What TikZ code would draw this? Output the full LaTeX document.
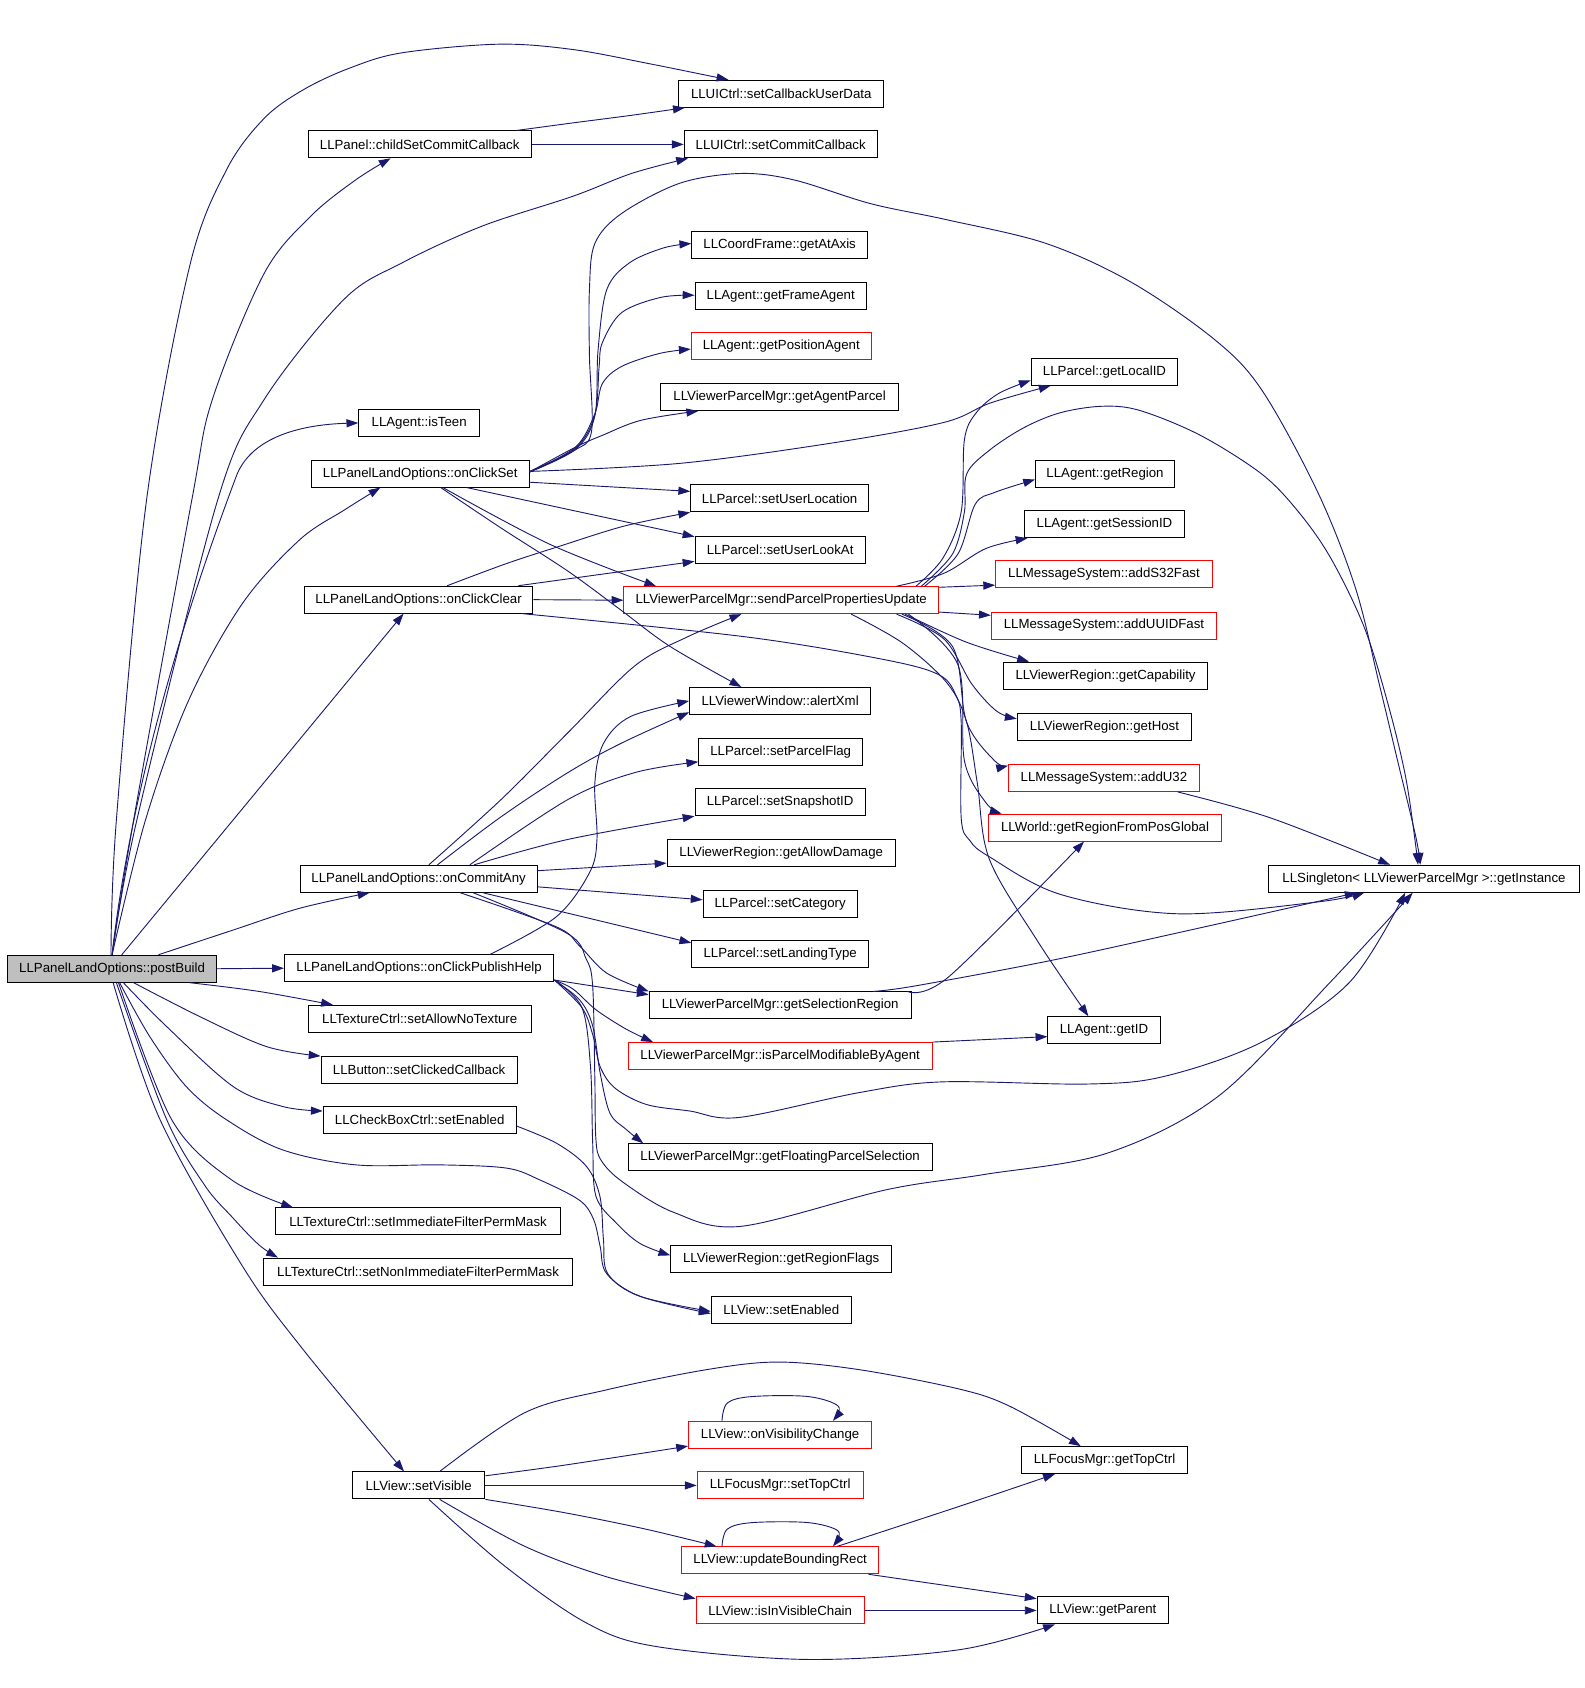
\documentclass[tikz,border=0pt]{standalone}
\usepackage{fontspec}
\setmainfont{Liberation Sans}
\usetikzlibrary{arrows.meta}
\definecolor{edgeblue}{RGB}{25,25,112}
\tikzset{
  fnbox/.style={draw=black, line width=0.9pt, minimum height=25pt, inner sep=0pt, font=\fontsize{12.3}{14}\selectfont, text=black},
  fnred/.style={fnbox, draw=red},
  cl/.style={draw=edgeblue, line width=0.85pt, smooth, tension=0.55, -{Triangle[length=11pt,width=7.5pt]}},
}
\begin{document}
\begin{tikzpicture}[x=1pt,y=-1pt]
\useasboundingbox (0,0) rectangle (1470,1566.5);
% nodes
\node[fnbox, minimum width=194pt, fill=black!25] (pb) at (104,899) {LLPanelLandOptions::postBuild};
\node[fnbox, minimum width=190pt] (scud) at (725,87) {LLUICtrl::setCallbackUserData};
\node[fnbox, minimum width=207pt] (cscc) at (389.5,134) {LLPanel::childSetCommitCallback};
\node[fnbox, minimum width=179pt] (scc) at (724.5,134) {LLUICtrl::setCommitCallback};
\node[fnbox, minimum width=163pt] (gaa) at (723.5,227.5) {LLCoordFrame::getAtAxis};
\node[fnbox, minimum width=159pt] (gfa) at (724.5,275) {LLAgent::getFrameAgent};
\node[fnred, minimum width=167pt] (gpa) at (725,321.5) {LLAgent::getPositionAgent};
\node[fnbox, minimum width=221pt] (gap) at (723.5,368.5) {LLViewerParcelMgr::getAgentParcel};
\node[fnbox, minimum width=112pt] (teen) at (389,392.5) {LLAgent::isTeen};
\node[fnbox, minimum width=202pt] (ocs) at (390,439.5) {LLPanelLandOptions::onClickSet};
\node[fnbox, minimum width=136pt] (glid) at (1025,345) {LLParcel::getLocalID};
\node[fnbox, minimum width=129pt] (greg) at (1025.5,439.5) {LLAgent::getRegion};
\node[fnbox, minimum width=148pt] (gsid) at (1025,486.5) {LLAgent::getSessionID};
\node[fnred, minimum width=201pt] (s32) at (1024.5,533) {LLMessageSystem::addS32Fast};
\node[fnred, minimum width=209pt] (uuid) at (1024.5,580.5) {LLMessageSystem::addUUIDFast};
\node[fnbox, minimum width=190pt] (gcap) at (1026,627) {LLViewerRegion::getCapability};
\node[fnbox, minimum width=162pt] (ghost) at (1025,674.5) {LLViewerRegion::getHost};
\node[fnred, minimum width=177pt] (u32) at (1024.5,722) {LLMessageSystem::addU32};
\node[fnred, minimum width=217pt] (rfpg) at (1025.5,768) {LLWorld::getRegionFromPosGlobal};
\node[fnbox, minimum width=288pt] (inst) at (1321.5,815.5) {LLSingleton< LLViewerParcelMgr >::getInstance};
\node[fnbox, minimum width=165pt] (sul) at (723.5,462.5) {LLParcel::setUserLocation};
\node[fnbox, minimum width=158pt] (sula) at (724,510) {LLParcel::setUserLookAt};
\node[fnbox, minimum width=212pt] (occ) at (388.5,556.5) {LLPanelLandOptions::onClickClear};
\node[fnred, minimum width=292pt] (sppu) at (725,557) {LLViewerParcelMgr::sendParcelPropertiesUpdate};
\node[fnbox, minimum width=168pt] (axml) at (724,650.5) {LLViewerWindow::alertXml};
\node[fnbox, minimum width=152pt] (spf) at (724.5,698) {LLParcel::setParcelFlag};
\node[fnbox, minimum width=158pt] (ssid) at (724,744.5) {LLParcel::setSnapshotID};
\node[fnbox, minimum width=212pt] (gad) at (725,791.5) {LLViewerRegion::getAllowDamage};
\node[fnbox, minimum width=220pt] (oca) at (388.5,815.5) {LLPanelLandOptions::onCommitAny};
\node[fnbox, minimum width=143pt] (scat) at (724,839) {LLParcel::setCategory};
\node[fnbox, minimum width=164pt] (slt) at (724,885.5) {LLParcel::setLandingType};
\node[fnbox, minimum width=250pt] (opph) at (389,898.5) {LLPanelLandOptions::onClickPublishHelp};
\node[fnbox, minimum width=243pt] (gsr) at (724,933) {LLViewerParcelMgr::getSelectionRegion};
\node[fnbox, minimum width=104pt] (gid) at (1024.5,956) {LLAgent::getID};
\node[fnred, minimum width=282pt] (ipm) at (724,980) {LLViewerParcelMgr::isParcelModifiableByAgent};
\node[fnbox, minimum width=207pt] (sant) at (389.5,945.5) {LLTextureCtrl::setAllowNoTexture};
\node[fnbox, minimum width=182pt] (scb) at (389,993) {LLButton::setClickedCallback};
\node[fnbox, minimum width=179pt] (cbse) at (389.5,1039) {LLCheckBoxCtrl::setEnabled};
\node[fnbox, minimum width=282pt] (gfps) at (724,1074) {LLViewerParcelMgr::getFloatingParcelSelection};
\node[fnbox, minimum width=264pt] (sifm) at (388,1133.5) {LLTextureCtrl::setImmediateFilterPermMask};
\node[fnbox, minimum width=287pt] (snifm) at (388,1180) {LLTextureCtrl::setNonImmediateFilterPermMask};
\node[fnbox, minimum width=205pt] (grf) at (725,1168) {LLViewerRegion::getRegionFlags};
\node[fnbox, minimum width=130pt] (vse) at (725,1215.5) {LLView::setEnabled};
\node[fnbox, minimum width=123pt] (vsv) at (388.5,1378.5) {LLView::setVisible};
\node[fnred, minimum width=170pt] (ovc) at (724,1331.5) {LLView::onVisibilityChange};
\node[fnbox, minimum width=154pt] (gtc) at (1025,1355) {LLFocusMgr::getTopCtrl};
\node[fnred, minimum width=154pt] (stc) at (724,1378.5) {LLFocusMgr::setTopCtrl};
\node[fnred, minimum width=183pt] (ubr) at (724,1448) {LLView::updateBoundingRect};
\node[fnred, minimum width=156pt] (ivc) at (724,1494.5) {LLView::isInVisibleChain};
\node[fnbox, minimum width=122pt] (gpar) at (1023.5,1494.5) {LLView::getParent};

% postBuild edges
\draw[cl] plot coordinates {([xshift=-1pt]pb.north) (108,761) (136,464) (176,247) (210,158) (245,110) (282,83) (325,63) (373,49) (463,41) (532,46) (602,59) ([xshift=-49pt]scud.north)};
\draw[cl] plot coordinates {(pb.north) (124,761) (178,464) (197,371) (245,254) (288,201) (330,167) ([xshift=-27pt]cscc.south)};
\draw[cl] plot coordinates {(pb.north) (127,761) (202,464) (245,371) (319,278) (373,244) (447,210) (532,182) (586,161) ([xshift=4pt]scc.south west)};
\draw[cl] (pb.north) .. controls (125,700) and (190,520) .. (220,440) .. controls (235,405) and (280,394) .. (teen.west);
\draw[cl] plot coordinates {(pb.north) (135,761) (175,650) (225,560) (278,501) (320,473) ([xshift=-37pt]ocs.south)};
\draw[cl] ([xshift=9pt]pb.north) -- ([xshift=-14pt]occ.south);
\draw[cl] plot coordinates {([xshift=43pt]pb.north) (216.6,863) (278.4,842.8) ([xshift=-45.5pt]oca.south)};
\draw[cl] (pb.east) -- (opph.west);
\draw[cl] plot coordinates {([xshift=72pt]pb.south) (240,920) ([xshift=-80.5pt]sant.north)};
\draw[cl] plot coordinates {([xshift=20pt]pb.south) (185.6,943.5) (247.5,971.3) (scb.north west)};
\draw[cl] plot coordinates {([xshift=10.5pt]pb.south) (154.7,952.7) (216.5,1008.4) (263,1027) ([yshift=8pt]cbse.west)};
\draw[cl] plot coordinates {([xshift=6pt]pb.south) (159.3,1039) (215,1095) ([xshift=-116pt]sifm.north)};
\draw[cl] plot coordinates {([xshift=4pt]pb.south) (154.7,1039) (190,1100) (215,1129) (240,1155) ([xshift=-130pt]snifm.north)};
\draw[cl] plot coordinates {([xshift=1pt]pb.south) (148.5,1039) (225,1175) (281,1252) ([xshift=-13.5pt]vsv.north)};
\draw[cl] plot coordinates {([xshift=7pt]pb.south) (139,962) (173,1008.5) (210,1039) (262,1067) (330,1081) (408,1081) (470,1084) (501,1095) (538,1114) (551,1132) (557,1157) (563,1182) (594,1203) ([yshift=-3.5pt]vse.west)};

% childSetCommitCallback
\draw[cl] plot coordinates {([xshift=90pt]cscc.north) (532,114) (586,107) ([xshift=6pt]scud.south west)};
\draw[cl] (cscc.east) -- (scc.west);

% onClickSet
\draw[cl] plot coordinates {([yshift=1.5pt]ocs.east) (534,417) (552,386) (555,325) (563,269) (584,244) (616,230) ([yshift=1.5pt]gaa.west)};
\draw[cl] plot coordinates {([yshift=1.5pt]ocs.east) (534,416) (552,385) (556,340) (559,318) (577,290) (613,276) ([yshift=1pt]gfa.west)};
\draw[cl] plot coordinates {([yshift=1.5pt]ocs.east) (534,415) (552,384) (559,356) (577,340) (612,328) ([yshift=-2.5pt]gpa.west)};
\draw[cl] plot coordinates {([yshift=1.5pt]ocs.east) (534,415) (559,404) (595,390) ([xshift=-75.5pt]gap.south)};
\draw[cl] plot coordinates {([yshift=2pt]ocs.east) (533,418) (549,400) (547,330) (547,269) (552,226) (577,198) (631,170) (687,161) (737,167) (808,189) (879,204) (971,226) (1050,262) (1127,315) (1171,362) (1223,457) (1258,546) (1280,635) (1297,706) (1314,777) ([xshift=-3.5pt]inst.north)};
\draw[cl] plot coordinates {([yshift=2pt]ocs.east) (631,430) (773,411) (876,392) (919,374) ([xshift=-50pt]glid.south)};
\draw[cl] ([yshift=-8pt]ocs.east) -- ([yshift=6.5pt]sul.west);
\draw[cl] ([xshift=43pt]ocs.south) -- ([yshift=-1pt]sula.north west);
\draw[cl] plot coordinates {([xshift=21pt]ocs.south) (510,505) ([xshift=-116pt]sppu.north)};
\draw[cl] plot coordinates {([xshift=19pt]ocs.south) (465,490) (527,530) (576,566) (622,600) ([xshift=-36pt]axml.north)};

% onClickClear
\draw[cl] plot coordinates {([xshift=26.5pt]occ.north) (470,523) (519,507) (580,488) (sul.south west)};
\draw[cl] ([xshift=92.5pt]occ.north) -- ([yshift=-11pt]sula.west);
\draw[cl] (occ.east) -- (sppu.west);
\draw[cl] plot coordinates {([xshift=96pt]occ.south) (692,591) (820,612) (871,626) (887,645) (892,670) (892,759) (900,780) (918,795) (984,830) (1093,848) (1223,837) ([xshift=-55.5pt]inst.south)};

% sendParcelPropertiesUpdate
\draw[cl] plot coordinates {([xshift=125pt]sppu.north) (875,518) (892,475) (895,408) (906,383) (927,365) ([yshift=-8pt]glid.west)};
\draw[cl] plot coordinates {([xshift=130pt]sppu.north) (884,514) (895,475) (897,440) (918,418) (950,397) (984,383) (1023,377) (1058,381) (1114,404) (1171,440) (1205,475) (1235,518) (1266,582) (1288,653) (1305,724) ([xshift=-5.5pt]inst.north)};
\draw[cl] plot coordinates {([xshift=133pt]sppu.north) (889,514) (905,468) (923,457) ([yshift=-5.5pt]greg.west)};
\draw[cl] plot coordinates {([xshift=107pt]sppu.north) (876,532) (915,509) ([xshift=3pt]gsid.south west)};
\draw[cl] ([yshift=12pt]sppu.east) -- ([yshift=-10pt]s32.west);
\draw[cl] ([yshift=-11pt]sppu.east) -- ([yshift=9.5pt]uuid.west);
\draw[cl] plot coordinates {([xshift=115pt]sppu.south) (897,596) ([xshift=-71pt]gcap.north)};
\draw[cl] plot coordinates {([xshift=107pt]sppu.south) (876,593) (902,635) (925,660) ([yshift=7.5pt]ghost.west)};
\draw[cl] plot coordinates {([xshift=112pt]sppu.south) (884,600) (897,670) (923,706) ([yshift=-1.5pt]u32.north west)};
\draw[cl] plot coordinates {([xshift=118pt]sppu.south) (889,617) (895,706) (915,745) ([xshift=13pt]rfpg.north west)};
\draw[cl] plot coordinates {([xshift=65pt]sppu.south) (838,597) (879,634) (897,670) (907,727) (918,797) (962,872) ([xshift=-14.5pt]gid.north)};

% addU32
\draw[cl] plot coordinates {([xshift=68.5pt]u32.south) (1179,759) ([xshift=-31.5pt]inst.north)};

% getSelectionRegion
\draw[cl] plot coordinates {([xshift=118pt]gsr.north) (881,906) ([xshift=-19.5pt]rfpg.south)};
\draw[cl] plot coordinates {([xshift=86pt]gsr.north) (849,915) (977,891) (1105,863) ([xshift=-62.5pt]inst.south)};

% isParcelModifiableByAgent
\draw[cl] (ipm.north east) -- ([yshift=-6pt]gid.west);

% onCommitAny
\draw[cl] plot coordinates {([xshift=9.5pt]oca.north) (465,742) (527,680) (589,618) (638,591) ([xshift=-37pt]sppu.south)};
\draw[cl] plot coordinates {([xshift=17.5pt]oca.north) (465,758) (527,717) (576,690) ([yshift=-10.5pt]axml.west)};
\draw[cl] plot coordinates {([xshift=47.5pt]oca.north) (527,742) (589,717) ([yshift=-9pt]spf.west)};
\draw[cl] plot coordinates {([xshift=51.5pt]oca.north) (527,779) (ssid.south west)};
\draw[cl] ([yshift=7.5pt]oca.east) -- ([yshift=-9.5pt]gad.west);
\draw[cl] ([yshift=-7.5pt]oca.east) -- ([yshift=4pt]scat.west);
\draw[cl] ([xshift=59.5pt]oca.south) -- ([yshift=10.5pt]slt.west);
\draw[cl] plot coordinates {([xshift=38.5pt]oca.south) (516,860) (538,878) (563,903) (gsr.north west)};
\draw[cl] plot coordinates {([xshift=50.5pt]oca.south) (526,866) (544,890) (550,915) (552,1000) (553,1057) (558,1077) (578,1097) (625,1125) (688,1138) (823,1104) (913,1090) (1028,1070) (1131,1017) (1234,912) ([xshift=-10.5pt]inst.south)};

% onClickPublishHelp
\draw[cl] plot coordinates {([xshift=66pt]opph.north) (516,851) (547,810) (554,779) (552,727) (560,690) (585,665) (axml.west)};
\draw[cl] ([yshift=-11pt]opph.east) -- ([yshift=-3pt]gsr.north west);
\draw[cl] plot coordinates {([yshift=-11pt]opph.east) (532,918) (553,937) (581,955) ([xshift=-118pt]ipm.north)};
\draw[cl] plot coordinates {([yshift=-11pt]opph.east) (538,928) (550,952) (557,996) (566,1033) (581,1048) ([xshift=-127pt]gfps.north)};
\draw[cl] plot coordinates {([yshift=-11pt]opph.east) (540,935) (548,990) (550,1060) (553,1110) (572,1135) (594,1154) ([yshift=3pt]grf.west)};
\draw[cl] plot coordinates {([yshift=-11pt]opph.east) (540,935) (550,960) (557,990) (571,1010) (600,1025) (640,1031) (686,1037) (797,1014) (874,1004) (1009,1006) (1080,999) (1169,968) (1252,912) ([xshift=-17.5pt]inst.south)};

% LLCheckBoxCtrl::setEnabled
\draw[cl] plot coordinates {([yshift=-6pt]cbse.east) (516.6,1061) (544.4,1082.6) (556.8,1110.5) (560,1150) (564,1182) (594,1203) ([yshift=-1.5pt]vse.west)};

% setVisible
\draw[cl] plot coordinates {([xshift=19.5pt]vsv.north) (487,1311) (562,1290) (656,1271) (722,1264) (797,1271) (890,1289) (937,1305) ([xshift=-22pt]gtc.north)};
\draw[cl] plot coordinates {([yshift=-4pt]vsv.north east) (525,1359.5) ([yshift=-10.5pt]ovc.west)};
\draw[cl] (vsv.east) -- (stc.west);
\draw[cl] plot coordinates {(vsv.south east) (525,1404) (599,1419) ([xshift=-59pt]ubr.north)};
\draw[cl] plot coordinates {([xshift=19.5pt]vsv.south) (487,1435) (562,1463) ([yshift=-2pt]ivc.north west)};
\draw[cl] plot coordinates {([xshift=9.5pt]vsv.south) (468,1453) (544,1506) (609,1528) (750,1540) (890,1531) ([xshift=-44.5pt]gpar.south)};

% loops and others
\draw[cl] plot coordinates {([xshift=-54pt]ovc.north) (675,1302) (698,1296) (750,1296) (778,1305) ([xshift=49pt]ovc.north)};
\draw[cl] plot coordinates {([xshift=-54pt]ubr.north) (675,1419) (698,1413) (750,1413) (778,1421) ([xshift=49pt]ubr.north)};
\draw[cl] plot coordinates {([xshift=53pt]ubr.north) (890,1398) ([xshift=-46pt]gtc.south)};
\draw[cl] ([xshift=82pt]ubr.south) -- ([yshift=-2pt]gpar.north west);
\draw[cl] (ivc.east) -- (gpar.west);
\end{tikzpicture}
\end{document}
